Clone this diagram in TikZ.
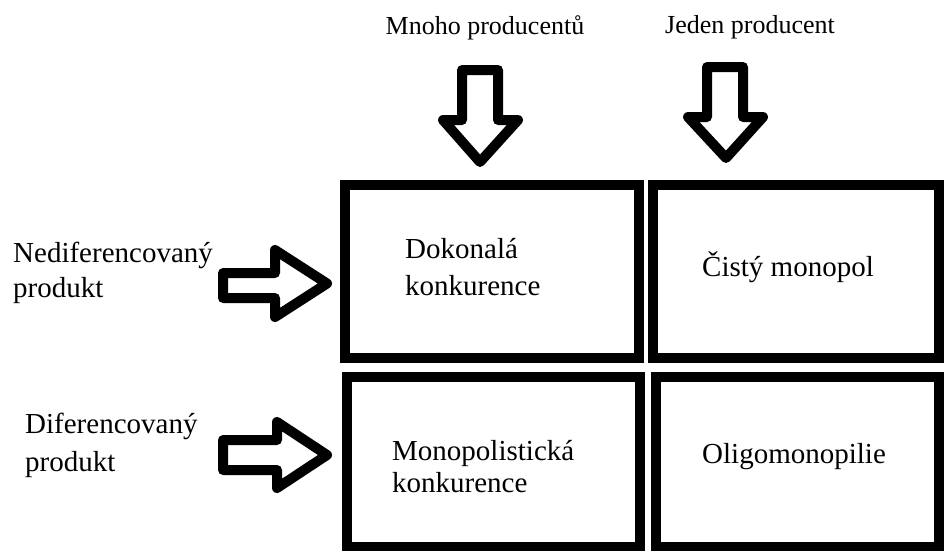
\documentclass[tikz,border=0pt]{standalone}
\usepackage{fontspec}
\setmainfont{Liberation Serif}
\usetikzlibrary{positioning}

\begin{document}
\begin{tikzpicture}[x=1pt,y=-1pt,
  cell/.style={draw, line width=10pt, inner sep=0pt},
  blockarrow/.style={draw, line width=10pt, line join=round},
  lbl/.style={font=\fontsize{29}{35}\selectfont, inner sep=0pt, anchor=base west, align=left},
  head/.style={font=\fontsize{26}{30}\selectfont, inner sep=0pt, anchor=base}]
\useasboundingbox (0,0) rectangle (944,550);
% the four market cells
\node[cell, minimum width=294pt, minimum height=173pt] (perfect) at (492,271) {};
\node[cell, minimum width=286pt, minimum height=173pt] (monopoly) at (796,271.5) {};
\node[cell, minimum width=293pt, minimum height=170pt] (monocomp) at (493.5,462) {};
\node[cell, minimum width=283pt, minimum height=170pt] (oligo) at (797.5,462) {};
\node[lbl, font=\fontsize{29}{37}\selectfont] (perfecttext) at (405,295) {Dokonalá\\konkurence};
\node[lbl] (monopolytext) at (702,276) {Čistý monopol};
\node[lbl, font=\fontsize{29}{32}\selectfont] (monocomptext) at (392,492) {Monopolistická\\konkurence};
\node[lbl] (oligotext) at (702,463) {Oligomonopilie};
% column heads
\node[head] (many) at (485,34) {Mnoho producentů};
\node[head] (one) at (750,33) {Jeden producent};
\draw[blockarrow] (462,70) -- (498,70) -- (498,120) -- (518,120) -- (480,162) -- (443,120) -- (462,120) -- cycle;
\draw[blockarrow] (707,67) -- (743,67) -- (743,117) -- (763,117) -- (726,158) -- (688,117) -- (707,117) -- cycle;
% row heads
\node[lbl] (undiff) at (13,297) {Nediferencovaný\\produkt};
\node[lbl, font=\fontsize{29}{38}\selectfont] (diff) at (25,471) {Diferencovaný\\produkt};
\draw[blockarrow] (223,273) -- (275,273) -- (275,250) -- (327,283.5) -- (275,317) -- (275,298) -- (223,298) -- cycle;
\draw[blockarrow] (223,440) -- (277,440) -- (277,422) -- (327,455) -- (277,488) -- (277,470) -- (223,470) -- cycle;
\end{tikzpicture}
\end{document}
